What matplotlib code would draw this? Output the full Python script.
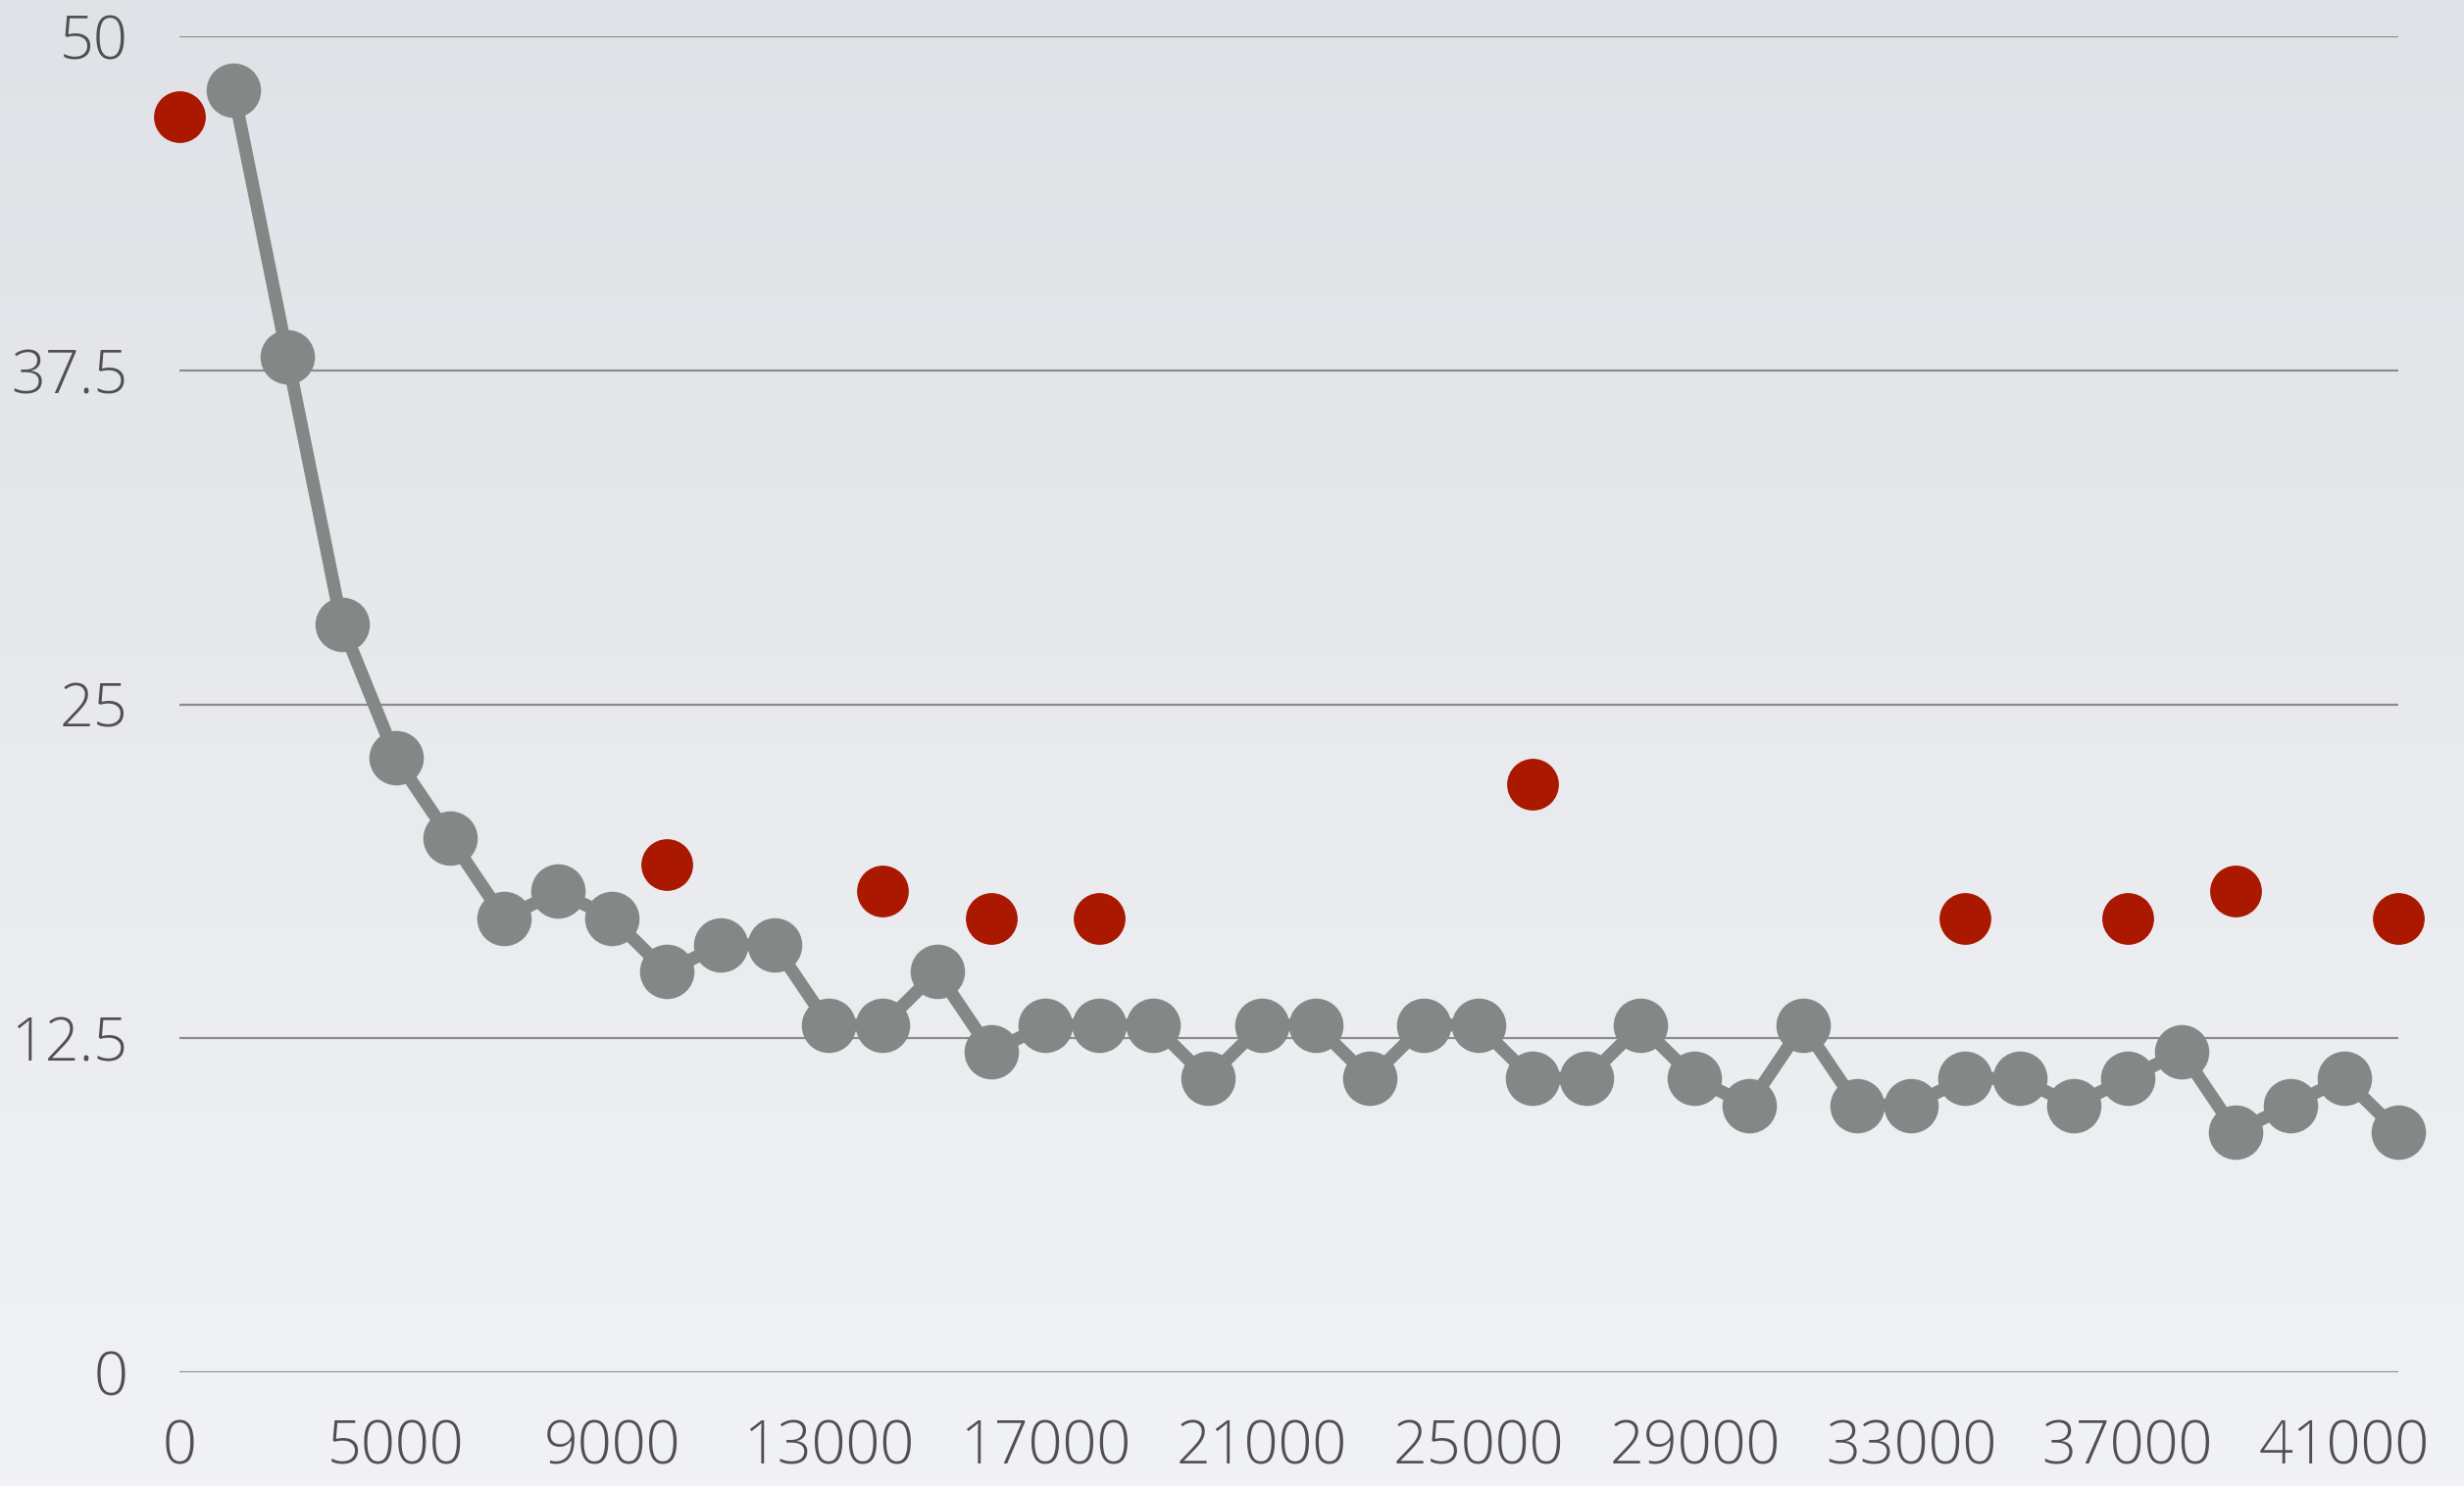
import numpy as np
import matplotlib
matplotlib.use("Agg")
import matplotlib.pyplot as plt
from matplotlib.colors import LinearSegmentedColormap

# x categories (labels shown every 4th)
categories = ["0"] + [str(1000 * (i + 1)) for i in range(1, 42)]

# gray series starts at the 2nd category
grayValues = [48, 38, 28, 23, 20, 17, 18, 17, 15, 16, 16, 13, 13, 15, 12, 13, 13, 13,
              11, 13, 13, 11, 13, 13, 11, 11, 13, 11, 10, 13, 10, 10, 11, 11, 10, 11,
              12, 9, 10, 11, 9]
grayIndex = list(range(1, 42))

redIndex = [0, 9, 13, 15, 17, 25, 33, 36, 38, 41]
redValues = [47, 19, 18, 17, 17, 22, 17, 17, 18, 17]

yTicks = [0, 12.5, 25, 37.5, 50]
yTickLabels = ["0", "12.5", "25", "37.5", "50"]

fig = plt.figure(figsize=(25.13, 15.16), dpi=100)

# background gradient
bg = fig.add_axes([0, 0, 1, 1], zorder=-10)
grad = np.linspace(0, 1, 256).reshape(-1, 1)
cmap = LinearSegmentedColormap.from_list("bg", ["#dfe2e6", "#f1f2f5"])
bg.imshow(grad, aspect="auto", cmap=cmap, extent=[0, 1, 0, 1])
bg.axis("off")

ax = fig.add_axes([0.0728, 0.0765, 0.9005, 0.8988])
ax.patch.set_alpha(0)

ax.plot(grayIndex, grayValues, color="#838785", linewidth=9.5, marker="o",
        markersize=40, markeredgewidth=0, clip_on=False, zorder=3)
ax.plot(redIndex, redValues, linestyle="none", color="#aa1800", marker="o",
        markersize=38, markeredgewidth=0, clip_on=False, zorder=4)

ax.set_xlim(0, 41)
ax.set_ylim(0, 50)
ax.set_yticks(yTicks)
ax.set_yticklabels(yTickLabels)
ax.set_xticks(range(0, 42, 4))
ax.set_xticklabels(categories[0:42:4])

for y in yTicks:
    ax.axhline(y, color="#8c8c8c", linewidth=1.6, zorder=1)

for s in ax.spines.values():
    s.set_visible(False)
ax.tick_params(axis="both", length=0, labelsize=44, labelcolor="#505050")
ax.tick_params(axis="y", pad=38)
ax.tick_params(axis="x", pad=34)
for lbl in ax.get_xticklabels() + ax.get_yticklabels():
    lbl.set_family(["Open Sans", "DejaVu Sans"])
    lbl.set_fontweight("light")

fig.savefig("out.png", dpi=100)
